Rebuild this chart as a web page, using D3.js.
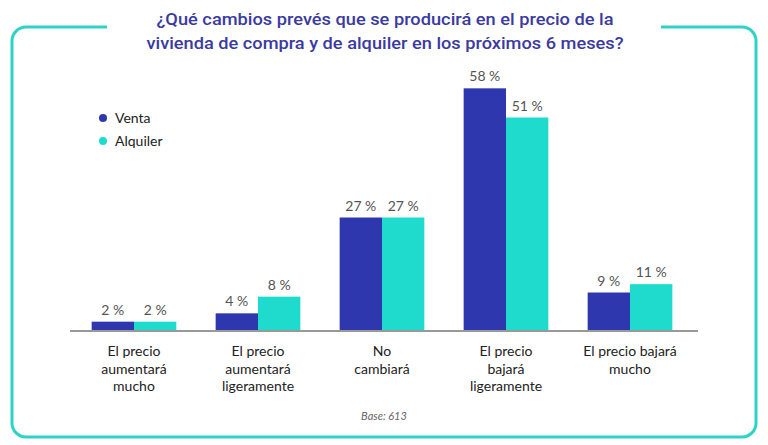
<html>
<head>
<meta charset="utf8">
<title>Cambios de precio de la vivienda</title>
<style>
body { margin:0; background:white; }
</style>
<script src="https://d3js.org/d3.v7.min.js"></script>
</head>
<body>
<div id="chart"></div>
<script>
var width = 768;
var height = 445;

// datos
var categorias = [
  ["El precio", "aumentará", "mucho"],
  ["El precio", "aumentará", "ligeramente"],
  ["No", "cambiará"],
  ["El precio", "bajará", "ligeramente"],
  ["El precio bajará", "mucho"]
];
var series = ["Venta", "Alquiler"];
var venta = [2, 4, 27, 58, 9];
var alquiler = [2, 8, 27, 51, 11];
var colores = ["#2f37ae", "#1fdbcd"];
var titulo = ["¿Qué cambios prevés que se producirá en el precio de la",
              "vivienda de compra y de alquiler en los próximos 6 meses?"];

var valores = [venta, alquiler];
var filas = categorias.map(function(c, i) {
  return { idx: i, lineas: c, vals: series.map(function(s, j) { return { serie: s, j: j, v: valores[j][i] }; }) };
});

var svg = d3.select("#chart").append("svg")
  .attr("width", width)
  .attr("height", height);

// marco redondeado con hueco para el título
var teal = "#2ed3c6";
var L = 12, T = 27, R = 756, B = 437, rr = 14;
var p = d3.path();
p.moveTo(107, T);
p.lineTo(L + rr, T);
p.arcTo(L, T, L, T + rr, rr);
p.lineTo(L, B - rr);
p.arcTo(L, B, L + rr, B, rr);
p.lineTo(R - rr, B);
p.arcTo(R, B, R, B - rr, rr);
p.lineTo(R, T + rr);
p.arcTo(R, T, R - rr, T, rr);
p.lineTo(661, T);
svg.append("path")
  .attr("d", p.toString())
  .attr("fill", "none")
  .attr("stroke", teal)
  .attr("stroke-width", 3);

// título
svg.selectAll("text.titulo")
  .data(titulo)
  .enter().append("text")
  .attr("class", "titulo")
  .attr("x", 385)
  .attr("y", function(d, i) { return 25 + i * 24; })
  .attr("text-anchor", "middle")
  .attr("font-family", "Roboto")
  .attr("font-weight", 500)
  .attr("font-size", 17)
  .attr("fill", "#3a3aa2")
  .attr("textLength", function(d, i) { return i == 0 ? 457 : 477; })
  .attr("lengthAdjust", "spacingAndGlyphs")
  .text(function(d) { return d; });

// escalas
var x0 = d3.scaleBand()
  .domain(d3.range(categorias.length))
  .range([72, 692])
  .paddingInner(0.317)
  .paddingOuter(0.1585);
var x1 = d3.scaleBand()
  .domain(series)
  .range([0, x0.bandwidth()]);
var y = d3.scaleLinear()
  .domain([0, 60])
  .range([330, 80]);

// barras
var grupos = svg.selectAll("g.grupo")
  .data(filas)
  .enter().append("g")
  .attr("class", "grupo")
  .attr("transform", function(d) { return "translate(" + x0(d.idx) + ",0)"; });

grupos.selectAll("rect")
  .data(function(d) { return d.vals; })
  .enter().append("rect")
  .attr("x", function(d) { return x1(d.serie); })
  .attr("y", function(d) { return y(d.v); })
  .attr("width", x1.bandwidth())
  .attr("height", function(d) { return y(0) - y(d.v); })
  .attr("fill", function(d) { return colores[d.j]; });

grupos.selectAll("text.valor")
  .data(function(d) { return d.vals; })
  .enter().append("text")
  .attr("class", "valor")
  .attr("x", function(d) { return x1(d.serie) + x1.bandwidth() / 2; })
  .attr("y", function(d) { return y(d.v) - 7; })
  .attr("text-anchor", "middle")
  .attr("font-family", "Lato")
  .attr("font-size", 14)
  .attr("fill", "#555")
  .text(function(d) { return d.v + " %"; });

// eje
svg.append("line")
  .attr("x1", 70)
  .attr("x2", 698)
  .attr("y1", y(0) + 1)
  .attr("y2", y(0) + 1)
  .attr("stroke", "#999")
  .attr("stroke-width", 2);

// etiquetas de categoría
grupos.selectAll("text.cat")
  .data(function(d) { return d.lineas; })
  .enter().append("text")
  .attr("class", "cat")
  .attr("x", x0.bandwidth() / 2)
  .attr("y", function(d, i) { return 356 + i * 17.5; })
  .attr("text-anchor", "middle")
  .attr("font-family", "Lato")
  .attr("font-size", 14)
  .attr("fill", "#222")
  .text(function(d) { return d; });

// leyenda
var ley = svg.selectAll("g.ley")
  .data(series)
  .enter().append("g")
  .attr("class", "ley")
  .attr("transform", function(d, i) { return "translate(103," + (118 + i * 23) + ")"; });
ley.append("circle")
  .attr("r", 4)
  .attr("fill", function(d, i) { return colores[i]; });
ley.append("text")
  .attr("x", 12)
  .attr("y", 5)
  .attr("font-family", "Lato")
  .attr("font-size", 14)
  .attr("fill", "#222")
  .text(function(d) { return d; });

// base
svg.append("text")
  .attr("x", 384)
  .attr("y", 420)
  .attr("text-anchor", "middle")
  .attr("font-family", "Lato")
  .attr("font-style", "italic")
  .attr("font-size", 11)
  .attr("fill", "#666")
  .text("Base: 613");
</script>
</body>
</html>
